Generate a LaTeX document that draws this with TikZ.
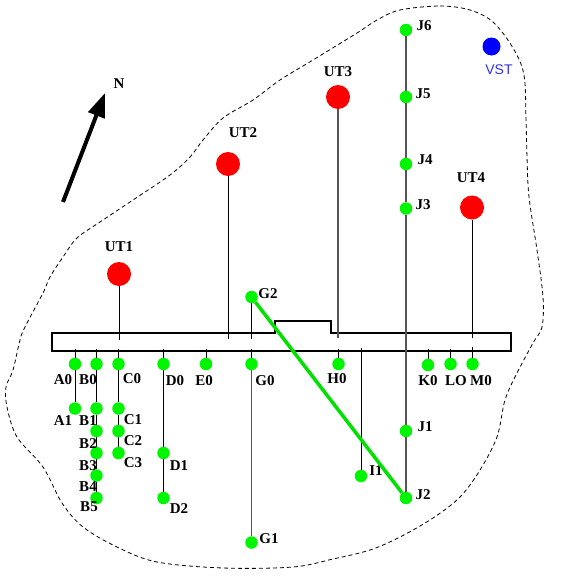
\documentclass[tikz,border=0pt]{standalone}
\usepackage{fontspec}
\setmainfont{Liberation Serif}
\newfontfamily\vstfont{Liberation Sans}
\usetikzlibrary{arrows.meta}
\definecolor{stngreen}{RGB}{0,245,0}
\definecolor{railgreen}{RGB}{0,225,0}
\definecolor{stngray}{RGB}{85,85,85}
\definecolor{vstblue}{RGB}{50,50,245}

\begin{document}
\begin{tikzpicture}[x=1pt, y=-1pt,
  stn/.style={circle, fill=stngreen, inner sep=0pt, minimum size=12.5pt},
  ut/.style={circle, fill=red, inner sep=0pt, minimum size=24pt},
  vst/.style={circle, fill=blue, inner sep=0pt, minimum size=18pt},
  lab/.style={inner sep=0pt, font=\bfseries\fontsize{15}{15}\selectfont},
  rail/.style={line width=1pt},
  grayrail/.style={line width=1.4pt, color=stngray}]
\useasboundingbox (0,0) rectangle (574,581);

% site outline
\draw[line width=0.8pt, dash pattern=on 4pt off 3pt] plot[smooth cycle, tension=0.55] coordinates {
  (400,10) (440,6) (470,10) (493,22) (513,48) (524,75) (526,120) (527,157) (529,197) (537,250)
  (543,297) (542,327) (533,343) (517,373) (505,400) (497,437) (480,470) (460,497) (433,518)
  (400,537) (370,550) (333,559) (293,567) (223,568) (157,562) (117,547) (83,527) (62,503)
  (43,467) (17,437) (7,407) (6,387) (13,370) (20,340) (25,327) (43,293) (50,277) (63,257)
  (77,238) (100,222) (133,200) (170,175) (190,157) (203,140) (223,118) (253,100) (280,80)
  (313,60) (357,33) (377,20)};

% telescope bar
\draw[line width=2pt] (52,332.5) -- (275,332.5) -- (275,320.5) -- (331,320.5) -- (331,332.5)
  -- (511,332.5) -- (511,351) -- (52,351) -- cycle;

% big telescopes
\node (UT1) [ut] at (119,274) {};
\node (UT2) [ut] at (228,164) {};
\node (UT3) [ut] at (338,97) {};
\node (UT4) [ut] at (472,207.5) {};
\node (VST) [vst] at (491.5,46.5) {};

% stations
\node (A0) [stn] at (75,364) {};
\node (A1) [stn] at (75,408.5) {};
\node (B0) [stn] at (96.5,364) {};
\node (B1) [stn] at (96.5,408.5) {};
\node (B2) [stn] at (96.5,431) {};
\node (B3) [stn] at (96.5,453) {};
\node (B4) [stn] at (96.5,475.5) {};
\node (B5) [stn] at (96.5,498) {};
\node (C0) [stn] at (118.5,364) {};
\node (C1) [stn] at (118.5,408.5) {};
\node (C2) [stn] at (118.5,431) {};
\node (C3) [stn] at (118.5,453) {};
\node (D0) [stn] at (163.5,364) {};
\node (D1) [stn] at (163.5,453) {};
\node (D2) [stn] at (163.5,498) {};
\node (E0) [stn] at (206,364) {};
\node (G0) [stn] at (251.5,364) {};
\node (G1) [stn] at (251.5,542.5) {};
\node (G2) [stn] at (251.5,297) {};
\node (H0) [stn] at (338.5,364) {};
\node (I1) [stn] at (361,476) {};
\node (J1) [stn] at (406,431) {};
\node (J2) [stn] at (406,498) {};
\node (J3) [stn] at (406,208.5) {};
\node (J4) [stn] at (406,164) {};
\node (J5) [stn] at (406,97) {};
\node (J6) [stn] at (406,30) {};
\node (K0) [stn] at (428,365) {};
\node (L0) [stn] at (450.5,364) {};
\node (M0) [stn] at (472.5,364) {};

% labels
\node (UT1t) [lab] at (119,247) {UT1};
\node (UT2t) [lab] at (243,133) {UT2};
\node (UT3t) [lab] at (338,72) {UT3};
\node (UT4t) [lab] at (471,178) {UT4};
\node (VSTt) [inner sep=0pt, text=vstblue, font=\vstfont\fontsize{14}{14}\selectfont] at (499,70) {VST};
\node (Nt) [lab] at (119,84) {N};
\node (A0t) [lab] at (63,380) {A0};
\node (A1t) [lab] at (63,421) {A1};
\node (B0t) [lab] at (88,380) {B0};
\node (B1t) [lab] at (88,421) {B1};
\node (B2t) [lab] at (88,444) {B2};
\node (B3t) [lab] at (88,466) {B3};
\node (B4t) [lab] at (88,487) {B4};
\node (B5t) [lab] at (89,507) {B5};
\node (C0t) [lab] at (132,379) {C0};
\node (C1t) [lab] at (133,420) {C1};
\node (C2t) [lab] at (133,441) {C2};
\node (C3t) [lab] at (133,463) {C3};
\node (D0t) [lab] at (175,381) {D0};
\node (D1t) [lab] at (179,466) {D1};
\node (D2t) [lab] at (179,509) {D2};
\node (E0t) [lab] at (204,381) {E0};
\node (G0t) [lab] at (265,381) {G0};
\node (G1t) [lab] at (269,539) {G1};
\node (G2t) [lab] at (268,294) {G2};
\node (H0t) [lab] at (337,379) {H0};
\node (I1t) [lab] at (376,471) {I1};
\node (J1t) [lab] at (425,427) {J1};
\node (J2t) [lab] at (423,495) {J2};
\node (J3t) [lab] at (423,205) {J3};
\node (J4t) [lab] at (425,160) {J4};
\node (J5t) [lab] at (423,94) {J5};
\node (J6t) [lab] at (424,26) {J6};
\node (K0t) [lab] at (428,381) {K0};
\node (L0t) [lab] at (456,381) {LO};
\node (M0t) [lab] at (481,381) {M0};

% free ends at the bar
\coordinate (UT1b) at (119,340);
\coordinate (UT2b) at (228,339);
\coordinate (UT3b) at (338,338);
\coordinate (UT4b) at (472,338);
\coordinate (G2b) at (251.5,339);
\coordinate (A0b) at (75,349);
\coordinate (B0b) at (96.5,349);
\coordinate (C0b) at (118.5,349);
\coordinate (D0b) at (163.5,349);
\coordinate (E0b) at (206,349);
\coordinate (G0b) at (251.5,349);
\coordinate (H0b) at (338.5,349);
\coordinate (I1b) at (361,348);
\coordinate (K0b) at (428,349);
\coordinate (L0b) at (450.5,349);
\coordinate (M0b) at (472.5,347);
\coordinate (Ntail) at (63,202);
\coordinate (Ntip) at (105,93);

\draw[rail] (UT1)--(UT1b);
\draw[rail] (UT2)--(UT2b);
\draw[grayrail] (UT3)--(UT3b);
\draw[rail] (UT4)--(UT4b);
\draw[rail] (G2)--(G2b);
\draw[rail] (A0b)--(A0);
\draw[rail] (B0b)--(B0);
\draw[rail] (C0b)--(C0);
\draw[rail] (D0b)--(D0);
\draw[rail] (E0b)--(E0);
\draw[rail] (G0b)--(G0);
\draw[rail] (H0b)--(H0);
\draw[rail] (I1b)--(I1);
\draw[rail] (K0b)--(K0);
\draw[rail] (L0b)--(L0);
\draw[rail] (M0b)--(M0);
\draw[rail] (A0)--(A1);
\draw[rail] (B0)--(B1);
\draw[rail] (B1)--(B2);
\draw[rail] (B2)--(B3);
\draw[rail] (B3)--(B4);
\draw[rail] (B4)--(B5);
\draw[rail] (C0)--(C1);
\draw[rail] (C1)--(C2);
\draw[rail] (C2)--(C3);
\draw[rail] (D0)--(D1);
\draw[rail] (D1)--(D2);
\draw[grayrail] (G0)--(G1);
\draw[grayrail] (J6)--(J5);
\draw[grayrail] (J5)--(J4);
\draw[grayrail] (J4)--(J3);
\draw[grayrail] (J3)--(J1);
\draw[grayrail] (J1)--(J2);
\draw[line width=3.5pt, color=railgreen] (G2)--(J2);
\draw[-{Triangle[length=24pt, width=17pt]}, line width=4pt] (Ntail)--(Ntip);
\end{tikzpicture}
\end{document}
